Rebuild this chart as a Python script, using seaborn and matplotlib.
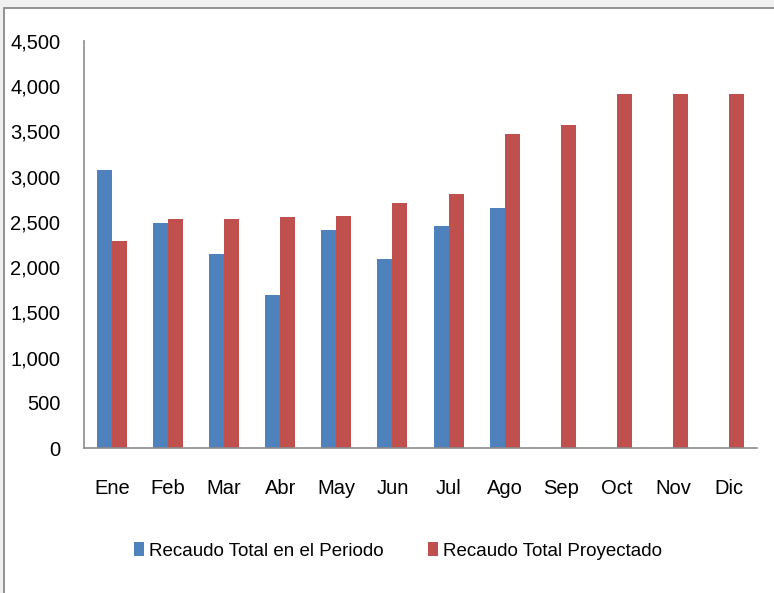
import numpy as np
import pandas as pd
import matplotlib
matplotlib.use("Agg")
import matplotlib.pyplot as plt
import seaborn as sns
from matplotlib.ticker import FuncFormatter
from matplotlib.patches import Rectangle

months = ["Ene", "Feb", "Mar", "Abr", "May", "Jun", "Jul", "Ago", "Sep", "Oct", "Nov", "Dic"]
recaudo_periodo = [3070, 2490, 2150, 1690, 2410, 2090, 2450, 2650, np.nan, np.nan, np.nan, np.nan]
recaudo_proyectado = [2290, 2530, 2530, 2550, 2570, 2710, 2810, 3470, 3570, 3910, 3910, 3910]
series_names = ["Recaudo Total en el Periodo", "Recaudo Total Proyectado"]
colors = ["#4F81BD", "#C0504D"]

df = pd.DataFrame({
    "Mes": months * 2,
    "Valor": recaudo_periodo + recaudo_proyectado,
    "Serie": [series_names[0]] * len(months) + [series_names[1]] * len(months),
})

sns.set_theme(style="white")
plt.rcParams["font.family"] = ["Liberation Sans", "DejaVu Sans"]
FS = 14.5
LFS = 13.5

fig = plt.figure(figsize=(7.74, 5.93), dpi=100, facecolor="#f0f0f0")
fig.patches.append(Rectangle((4 / 774, -0.02), 1.1, 1 - 7.5 / 593 + 0.02, transform=fig.transFigure,
                             facecolor="white", edgecolor="#8a8a8a", linewidth=1.3, zorder=-5))

ax = fig.add_axes([84 / 774, 1 - 448 / 593, (757 - 84) / 774, (448 - 41) / 593])
ax.set_facecolor("none")

sns.barplot(data=df, x="Mes", y="Valor", hue="Serie", order=months,
            hue_order=series_names, palette=colors, width=0.535,
            saturation=1, ax=ax, legend=True, edgecolor="none")

ax.set_ylim(0, 4500)
ax.set_yticks(np.arange(0, 4501, 500))
ax.yaxis.set_major_formatter(FuncFormatter(lambda v, p: f"{int(v):,}"))
ax.set_xlabel("")
ax.set_ylabel("")
ax.tick_params(axis="both", length=0, labelsize=FS, colors="#000000")
ax.tick_params(axis="y", pad=17)
ax.tick_params(axis="x", pad=22)
for s in ["top", "right"]:
    ax.spines[s].set_visible(False)
for s in ["left", "bottom"]:
    ax.spines[s].set_color("#8c8c8c")
    ax.spines[s].set_linewidth(1.2)

handles, labels = ax.get_legend_handles_labels()
ax.get_legend().remove()
leg = fig.legend(handles, labels, loc="center", bbox_to_anchor=(398 / 774, 1 - 551 / 593),
                 ncol=2, frameon=False, fontsize=LFS, handlelength=0.55, handleheight=0.7,
                 handletextpad=0.27, columnspacing=2.35)
for t in leg.get_texts():
    t.set_color("black")

fig.savefig("out.png", dpi=100, facecolor=fig.get_facecolor())
